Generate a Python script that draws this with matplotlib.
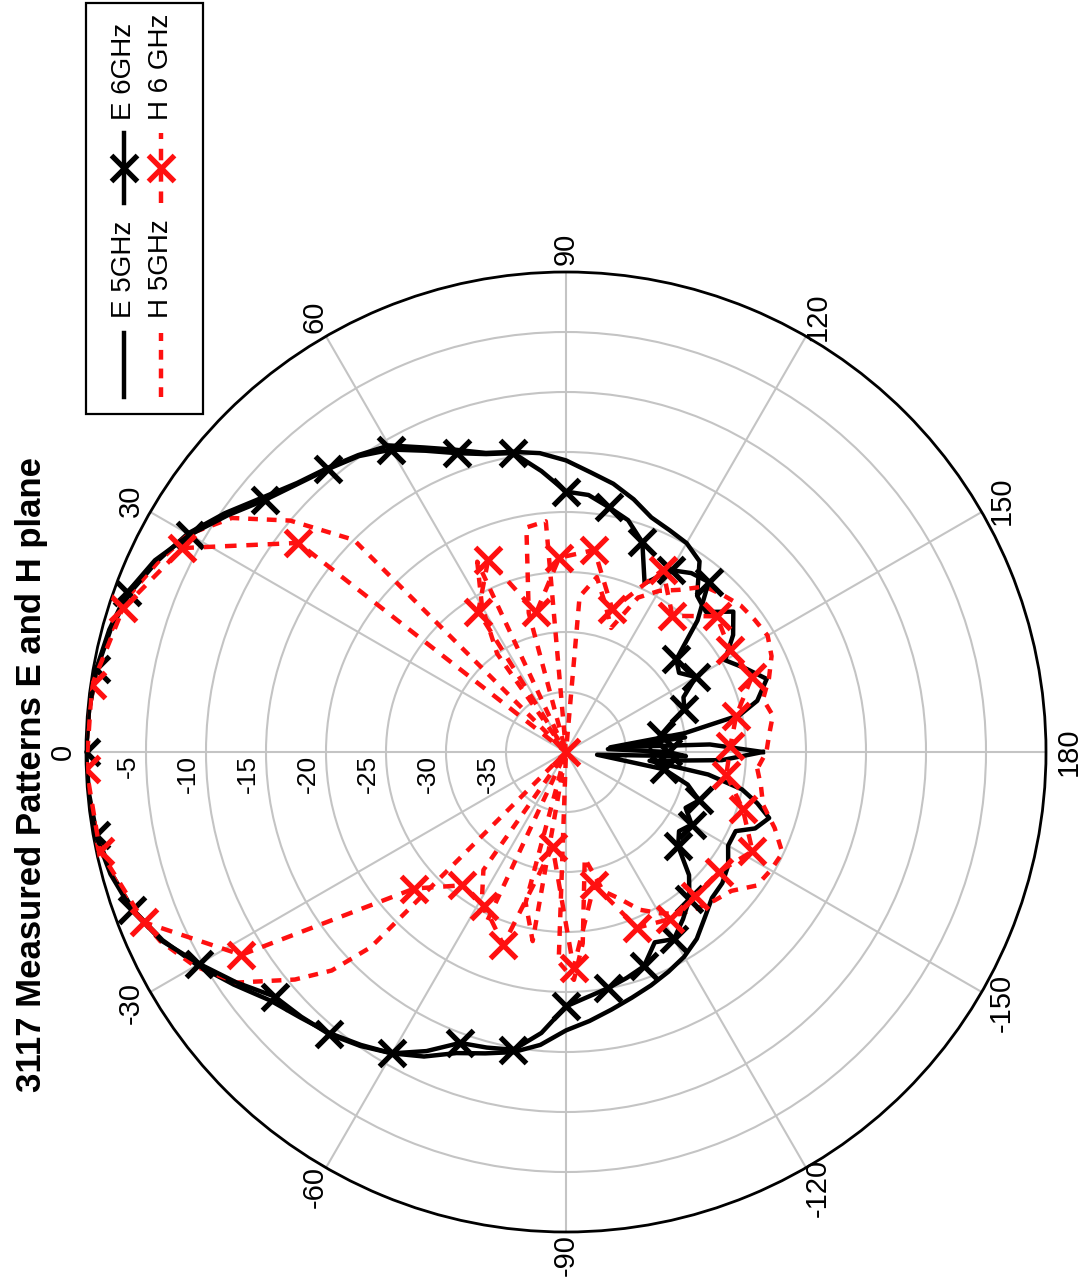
import numpy as np
import matplotlib
matplotlib.use('Agg')
import matplotlib.pyplot as plt
from matplotlib.patches import Rectangle
from matplotlib.lines import Line2D

plt.rcParams['font.family'] = ['Liberation Sans', 'DejaVu Sans']

# ---------------- data ----------------
title = "3117 Measured Patterns E and H plane"
theta_ticks = [0, 30, 60, 90, 120, 150, 180, 210, 240, 270, 300, 330]
theta_labels = ["0", "30", "60", "90", "120", "150", "180", "-150", "-120", "-90", "-60", "-30"]
r_ticks = [-35, -30, -25, -20, -15, -10, -5]
r_labels = ["-35", "-30", "-25", "-20", "-15", "-10", "-5"]
series_names = ["E 5GHz", "H 5GHz", "E 6GHz", "H 6 GHz"]

e5_ang = [-180, -177, -174, -171, -168, -165, -162, -158, -155, -150, -145, -140, -135, -130, -125,
          -120, -115, -110, -105, -100, -95, -90, -85, -80, -75, -70, -65, -60, -55, -50, -45, -40,
          -35, -30, -25, -20, -15, -10, -5, 0, 5, 10, 15, 20, 25, 30, 35, 40, 45, 50, 55, 60, 65,
          70, 75, 80, 85, 90, 95, 100, 105, 110, 115, 120, 125, 130, 135, 140, 145, 150, 155, 160,
          165, 168, 171, 174, 177]
e5_val = [-23.6, -27.0, -33.0, -28.0, -25.0, -23.5, -22.2, -23.0, -24.4, -24.4, -23.5, -23.0, -22.8,
          -22.0, -21.0, -20.3, -19.8, -19.3, -18.8, -18.2, -17.5, -16.8, -15.5, -14.6, -14.0, -13.3,
          -12.0, -11.0, -10.2, -9.4, -8.7, -7.8, -6.2, -4.5, -2.9, -1.6, -0.8, -0.3, -0.1, 0.0, -0.1,
          -0.3, -0.7, -1.3, -2.4, -3.6, -5.3, -7.0, -8.3, -9.1, -9.8, -10.5, -12.0, -13.2, -14.2,
          -14.6, -15.0, -15.7, -16.6, -17.3, -18.2, -19.2, -19.6, -19.9, -20.6, -23.0, -23.5, -21.8,
          -23.0, -24.7, -23.5, -22.2, -23.5, -25.2, -30.0, -36.3, -28.0]

e6_ang = [-180, -178, -175, -170, -165, -160, -155, -150, -145, -140, -135, -130, -125, -120, -115,
          -110, -105, -100, -95, -90, -85, -80, -75, -70, -65, -60, -55, -50, -45, -40, -35, -30,
          -25, -20, -15, -10, -5, 0, 5, 10, 15, 20, 25, 30, 35, 40, 45, 50, 55, 60, 65, 70, 75, 80,
          85, 90, 95, 100, 105, 110, 115, 120, 125, 130, 135, 140, 145, 150, 155, 160, 165, 170,
          173, 176]
e6_val = [-31.5, -30.0, -37.4, -31.7, -29.5, -28.2, -29.0, -27.9, -28.5, -27.8, -25.5, -24.0, -23.0,
          -22.0, -22.5, -21.0, -20.5, -20.0, -19.5, -18.8, -16.5, -14.8, -14.5, -14.2, -12.5, -11.0,
          -10.1, -9.3, -8.8, -8.3, -6.5, -4.7, -2.8, -1.5, -0.7, -0.2, 0.0, 0.0, -0.1, -0.25, -0.6,
          -1.1, -2.2, -3.8, -5.6, -7.3, -8.4, -9.2, -9.9, -10.9, -12.3, -13.5, -14.3, -14.7, -16.5,
          -18.3, -18.5, -19.3, -20.0, -21.4, -24.5, -22.5, -21.8, -21.5, -24.5, -28.0, -28.5, -27.5,
          -29.2, -29.5, -31.0, -32.0, -30.0, -36.5]

h5_ang = [-175, -170, -165, -160, -155, -150, -145, -140, -135, -130, -125, -120, -115, -110, -105,
          -100, -95, -92, -88, -85, -80, -75, -70, -65, -60, -55, -48, -45, -43, -40, -35, -30, -25,
          -20, -15, -10, -5, 0, 5, 10, 15, 20, 25, 30, 35, 40, 45, 50, 55, 60, 65, 70, 75, 80, 85,
          90, 95, 100, 105, 110, 115, 120, 125, 130, 135, 140, 145, 150, 155, 160, 165, 170, 175, 180]
h5_val = [-24.0, -23.5, -23.0, -21.5, -20.1, -20.3, -20.6, -22.0, -22.5, -23.0, -23.5, -24.5, -25.5,
          -27.0, -28.0, -31.0, -24.0, -21.0, -22.5, -40.0, -24.0, -27.0, -40.0, -24.5, -26.0, -28.0,
          -40.0, -17.0, -13.3, -10.5, -6.5, -4.3, -2.7, -1.6, -0.8, -0.3, -0.1, 0.0, -0.1, -0.3, -0.8,
          -1.4, -2.5, -3.7, -6.0, -10.0, -15.0, -40.0, -30.0, -26.0, -22.5, -40.0, -28.0, -21.0,
          -20.7, -40.0, -27.0, -25.2, -27.3, -29.0, -25.8, -24.5, -23.5, -22.0, -21.5, -21.0, -20.8,
          -20.6, -21.1, -22.0, -23.0, -22.5, -23.0, -23.3]

h6_ang = [-172, -162, -152, -142, -132, -122, -112, -102, -92, -82, -72, -62, -52, -42, -32, -22,
          -12, -2, 8, 18, 28, 38, 48, 58, 68, 78, 88, 98, 108, 118, 128, 138, 148, 158, 168, 178]
h6_val = [-26.5, -24.5, -22.4, -23.8, -23.9, -23.6, -24.2, -28.7, -22.0, -32.0, -23.1, -25.5, -25.9,
          -23.0, -8.1, -2.1, -0.3, 0.0, -0.1, -1.2, -3.8, -11.7, -40.0, -26.2, -22.7, -28.1, -23.8,
          -23.0, -27.5, -22.8, -25.6, -23.1, -23.9, -23.3, -25.5, -26.3]

# ---------------- layout ----------------
W, H = 1088, 1280
fig = plt.figure(figsize=(W / 100, H / 100), dpi=100)
fig.patch.set_facecolor('white')


def fx(x):
    return x / W


def fy(y):
    return 1 - y / H


cx, cy, R = 566, 752, 480
ax = fig.add_axes([(cx - R) / W, (H - cy - R) / H, 2 * R / W, 2 * R / H], projection='polar')
ax.set_theta_zero_location('W')
ax.set_theta_direction(-1)
ax.set_rlim(-40, 0)
ax.set_rticks(r_ticks)
ax.set_yticklabels([])
ax.set_thetagrids(theta_ticks, labels=[''] * len(theta_ticks))
ax.grid(True, color='#c4c4c4', lw=1.5)
ax.spines['polar'].set_linewidth(2.0)
ax.spines['polar'].set_color('black')

# angle labels
for a, lab in zip(theta_ticks, theta_labels):
    ax.text(np.deg2rad(a), 1.9, lab, rotation=90, ha='center', va='center',
            rotation_mode='anchor', fontsize=21, clip_on=False)

# radial labels
for rv, lab in zip(r_ticks, r_labels):
    ax.annotate(lab, xy=(0, rv), xytext=(-6, -3), textcoords='offset pixels',
                rotation=90, ha='right', va='bottom', rotation_mode='anchor',
                fontsize=19, color='black', annotation_clip=False)


def closed(ang, val):
    a = np.deg2rad(np.array(list(ang) + [ang[0]], dtype=float))
    v = np.array(list(val) + [val[0]], dtype=float)
    return a, v


LW = 3.2
RED = '#ff1010'
a, v = closed(e5_ang, e5_val)
ax.plot(a, v, color='black', lw=LW, zorder=3)
a, v = closed(h5_ang, h5_val)
ax.plot(a, v, color=RED, lw=LW, ls=(0, (2.2, 2.0)), zorder=3)
a, v = closed(e6_ang, e6_val)
mk = [i for i, g in enumerate(e6_ang) if g % 10 == 0]
ax.plot(a, v, color='black', lw=LW, marker='x', ms=19, mew=3.8, markevery=mk, zorder=4)
a, v = closed(h6_ang, h6_val)
ax.plot(a, v, color=RED, lw=LW, ls=(0, (2.6, 2.2)), marker='x', ms=19, mew=3.8,
        markevery=list(range(len(h6_ang))), zorder=5)

# title
fig.text(fx(31), fy(1092), title, rotation=90, ha='left', va='center',
         rotation_mode='anchor', fontsize=25, fontweight='bold')

# legend (rotated, manual)
fig.add_artist(Rectangle((fx(86), fy(414)), (203 - 86) / W, (414 - 3) / H,
                         transform=fig.transFigure, fill=True, facecolor='white',
                         edgecolor='black', lw=1.6, zorder=10))
rows_x = [124, 161]
handle_y = [(397, 333), (203, 133)]
text_y = [318, 120]
styles = [
    dict(color='black', lw=LW, ls='-'),
    dict(color=RED, lw=LW, ls=(0, (2.2, 2.0))),
    dict(color='black', lw=LW, ls='-'),
    dict(color=RED, lw=LW, ls=(0, (2.6, 2.2))),
]
has_marker = [False, False, True, True]
for i, name in enumerate(series_names):
    col = i // 2
    row = i % 2
    x = rows_x[row]
    y0, y1 = handle_y[col]
    fig.add_artist(Line2D([fx(x), fx(x)], [fy(y0), fy(y1)], transform=fig.transFigure,
                          zorder=11, **styles[i]))
    if has_marker[i]:
        fig.add_artist(Line2D([fx(x)], [fy((y0 + y1) / 2)], transform=fig.transFigure,
                              marker='x', ms=19, mew=3.8, color=styles[i]['color'],
                              ls='none', zorder=12))
    fig.text(fx(x), fy(text_y[col]), name, rotation=90, ha='left', va='center',
             rotation_mode='anchor', fontsize=20, zorder=12)

fig.savefig('out.png', dpi=100, facecolor='white')
